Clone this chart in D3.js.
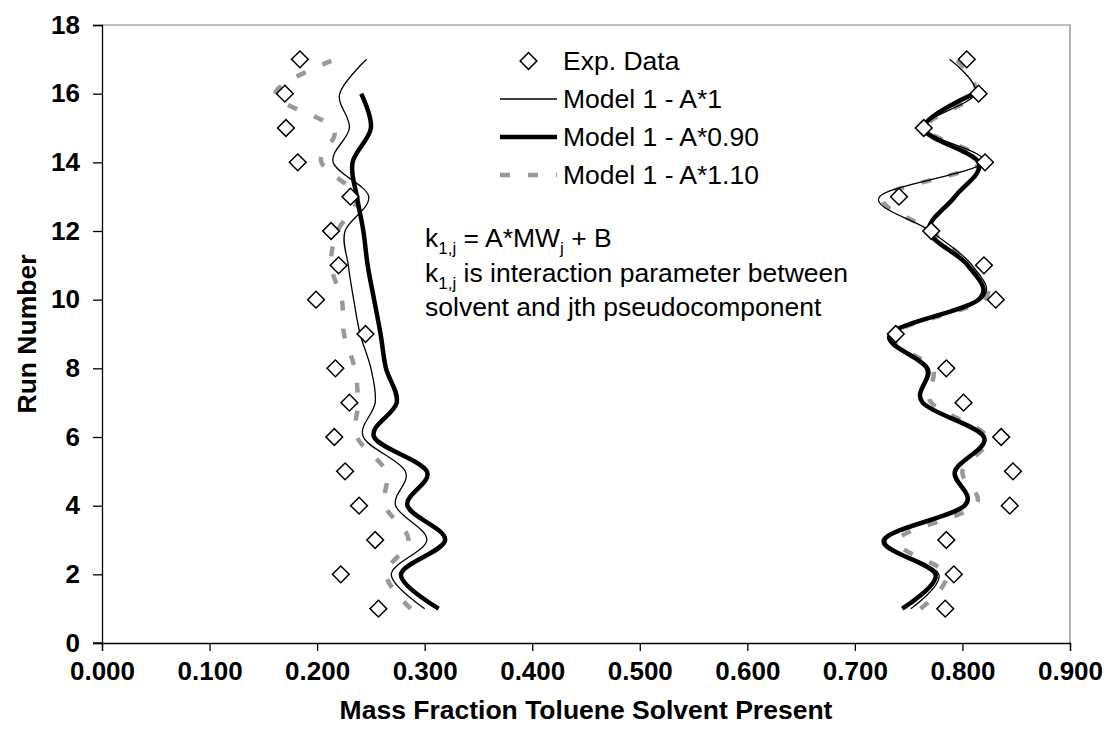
<!DOCTYPE html>
<html>
<head>
<meta charset="utf-8">
<script src="https://cdn.jsdelivr.net/npm/d3@7"></script>
<style>
  body { margin: 0; background: #fff; }
  text { font-family: "Liberation Sans", Arial, sans-serif; fill: #000; }
</style>
</head>
<body>
<svg id="chart" width="1107" height="742"></svg>
<script>
// Run numbers (y values)
const runs = [1, 2, 3, 4, 5, 6, 7, 8, 9, 10, 11, 12, 13, 14, 15, 16, 17];
const runs16 = runs.slice(0, 16);

// Experimental mass fractions, runs 1..17
const expLeft  = [0.257, 0.222, 0.254, 0.239, 0.226, 0.216, 0.230, 0.217, 0.245, 0.199, 0.220, 0.213, 0.231, 0.182, 0.171, 0.170, 0.184];
const expRight = [0.784, 0.792, 0.785, 0.844, 0.847, 0.836, 0.801, 0.785, 0.738, 0.831, 0.820, 0.771, 0.741, 0.821, 0.764, 0.815, 0.804];

// Model 1 - A*1
const modelA1Left  = [0.300, 0.269, 0.302, 0.273, 0.282, 0.243, 0.254, 0.250, 0.240, 0.234, 0.229, 0.226, 0.248, 0.215, 0.230, 0.221, 0.246];
const modelA1Right = [0.752, 0.778, 0.729, 0.803, 0.794, 0.820, 0.763, 0.769, 0.732, 0.817, 0.809, 0.770, 0.723, 0.819, 0.764, 0.812, 0.788];

// Model 1 - A*0.90 (runs 1..16)
const modelA090Left  = [0.313, 0.278, 0.319, 0.284, 0.302, 0.253, 0.274, 0.264, 0.259, 0.253, 0.247, 0.243, 0.237, 0.233, 0.250, 0.241];
const modelA090Right = [0.744, 0.775, 0.727, 0.802, 0.793, 0.820, 0.763, 0.767, 0.733, 0.815, 0.805, 0.769, 0.793, 0.815, 0.764, 0.811];

// Model 1 - A*1.10
const modelA110Left  = [0.287, 0.264, 0.285, 0.263, 0.264, 0.237, 0.238, 0.235, 0.225, 0.223, 0.213, 0.219, 0.237, 0.204, 0.215, 0.161, 0.217];
const modelA110Right = [0.761, 0.785, 0.740, 0.812, 0.800, 0.823, 0.771, 0.772, 0.735, 0.820, 0.806, 0.771, 0.727, 0.818, 0.766, 0.812, 0.794];

const xTicks = [0, 0.1, 0.2, 0.3, 0.4, 0.5, 0.6, 0.7, 0.8, 0.9];
const yTicks = [0, 2, 4, 6, 8, 10, 12, 14, 16, 18];

const legendLabels = ["Exp. Data", "Model 1 - A*1", "Model 1 - A*0.90", "Model 1 - A*1.10"];

const svg = d3.select("#chart");
const plot = { left: 102, right: 1070, top: 25, bottom: 643 };
const FONT = '"Liberation Sans", Arial, sans-serif';

const x = d3.scaleLinear().domain([0, 0.9]).range([plot.left, plot.right]);
const y = d3.scaleLinear().domain([0, 18]).range([plot.bottom, plot.top]);

// Plot area frame (top and right edges)
svg.append("path")
  .attr("d", `M${plot.left},${plot.top}H${plot.right}V${plot.bottom}`)
  .attr("fill", "none").attr("stroke", "#808080").attr("stroke-width", 1.2);

// Axes
const xAxis = svg.append("g")
  .attr("transform", `translate(0,${plot.bottom})`)
  .call(d3.axisBottom(x).tickValues(xTicks).tickFormat(d3.format(".3f")).tickSizeOuter(0).tickSize(8).tickPadding(11));
const yAxis = svg.append("g")
  .attr("transform", `translate(${plot.left},0)`)
  .call(d3.axisLeft(y).tickValues(yTicks).tickFormat(d3.format("d")).tickSizeOuter(0).tickSize(9).tickPadding(13));

[xAxis, yAxis].forEach(g => {
  g.select(".domain").attr("stroke", "#000").attr("stroke-width", 1.3);
  g.selectAll(".tick line").attr("stroke", "#000").attr("stroke-width", 1.3);
  g.selectAll(".tick text")
    .attr("fill", "#000")
    .style("font-family", FONT)
    .style("font-size", "26px").style("font-weight", "bold");
});
// x axis line continues a little left of the y axis
svg.append("line")
  .attr("x1", plot.left - 9).attr("x2", plot.left)
  .attr("y1", plot.bottom).attr("y2", plot.bottom)
  .attr("stroke", "#000").attr("stroke-width", 1.3);

// Axis titles
svg.append("text")
  .attr("x", (plot.left + plot.right) / 2).attr("y", 719)
  .attr("text-anchor", "middle")
  .style("font-size", "26.5px").style("font-weight", "bold")
  .text("Mass Fraction Toluene Solvent Present");
svg.append("text")
  .attr("transform", `translate(36,${(plot.top + plot.bottom) / 2}) rotate(-90)`)
  .attr("text-anchor", "middle")
  .style("font-size", "26.5px").style("font-weight", "bold")
  .text("Run Number");

// Series styles
const styles = {
  a1:   { stroke: "#000", width: 1.3, dash: null },
  a090: { stroke: "#000", width: 4.5, dash: null },
  a110: { stroke: "#999", width: 4.5, dash: "10,18" }
};

const line = d3.line()
  .x(d => x(d[0]))
  .y(d => y(d[1]))
  .curve(d3.curveCatmullRom.alpha(0));

function drawSeries(values, runList, style) {
  const pts = values.map((v, i) => [v, runList[i]]);
  svg.append("path")
    .datum(pts)
    .attr("d", line)
    .attr("fill", "none")
    .attr("stroke", style.stroke)
    .attr("stroke-width", style.width)
    .attr("stroke-dasharray", style.dash)
    .attr("stroke-linejoin", "round");
}

// Draw order: A*1.10, A*0.90, A*1 so the thin line stays visible
drawSeries(modelA110Left, runs, styles.a110);
drawSeries(modelA110Right, runs, styles.a110);
drawSeries(modelA090Left, runs16, styles.a090);
drawSeries(modelA090Right, runs16, styles.a090);
drawSeries(modelA1Left, runs, styles.a1);
drawSeries(modelA1Right, runs, styles.a1);

// Experimental diamonds
const diamond = d3.symbol().type(d3.symbolSquare).size(140);
function drawExp(values) {
  svg.append("g").selectAll("path")
    .data(values.map((v, i) => [v, runs[i]]))
    .join("path")
    .attr("d", diamond)
    .attr("transform", d => `translate(${x(d[0])},${y(d[1])}) rotate(45)`)
    .attr("fill", "#fff")
    .attr("stroke", "#000")
    .attr("stroke-width", 1.5);
}
drawExp(expLeft);
drawExp(expRight);

// Legend
const legend = svg.append("g");
const legX0 = 500, legX1 = 557, legTextX = 563;
const legRows = [61, 99, 137, 175];
legend.append("path")
  .attr("d", diamond)
  .attr("transform", `translate(${(legX0 + legX1) / 2},${legRows[0]}) rotate(45)`)
  .attr("fill", "#fff").attr("stroke", "#000").attr("stroke-width", 1.5);
[styles.a1, styles.a090, styles.a110].forEach((s, i) => {
  legend.append("line")
    .attr("x1", legX0).attr("x2", legX1)
    .attr("y1", legRows[i + 1]).attr("y2", legRows[i + 1])
    .attr("stroke", s.stroke).attr("stroke-width", s.width)
    .attr("stroke-dasharray", s.dash);
});
legendLabels.forEach((t, i) => {
  legend.append("text")
    .attr("x", legTextX).attr("y", legRows[i])
    .attr("dy", "0.35em")
    .style("font-size", "26.5px")
    .text(t);
});

// Correlation note
const note = svg.append("g").style("font-size", "26.5px");
const t1 = note.append("text").attr("x", 425).attr("y", 247);
t1.append("tspan").text("k");
t1.append("tspan").attr("dy", 7).style("font-size", "17px").text("1,j");
t1.append("tspan").attr("dy", -7).text(" = A*MW");
t1.append("tspan").attr("dy", 7).style("font-size", "17px").text("j");
t1.append("tspan").attr("dy", -7).text(" + B");
const t2 = note.append("text").attr("x", 425).attr("y", 282);
t2.append("tspan").text("k");
t2.append("tspan").attr("dy", 7).style("font-size", "17px").text("1,j");
t2.append("tspan").attr("dy", -7).text(" is interaction parameter between");
note.append("text").attr("x", 425).attr("y", 316).text("solvent and jth pseudocomponent");
</script>
</body>
</html>
